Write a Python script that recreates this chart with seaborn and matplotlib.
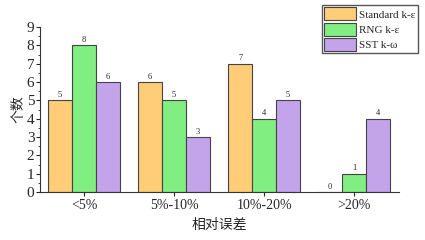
import pandas as pd
import matplotlib.pyplot as plt
import seaborn as sns

# Data
categories = ['<5%', '5%-10%', '10%-20%', '>20%']
models = ['Standard k-ε', 'RNG k-ε', 'SST k-ω']
standard_ke = [5, 6, 7, 0]
rng_ke = [8, 5, 4, 1]
sst_kw = [6, 3, 5, 4]
colors = ['#FFCC77', '#80EE80', '#C3A3EA']

df = pd.DataFrame({
    'Range': categories * 3,
    'Model': [m for m in models for _ in categories],
    'Count': standard_ke + rng_ke + sst_kw,
})

sns.set_style('white')
plt.rcParams['font.family'] = ['Liberation Serif', 'Noto Sans CJK SC']

fig = plt.figure(figsize=(4.25, 2.4), dpi=100)
ax = fig.add_axes([0.094, 0.2, 0.845, 0.6875])

sns.barplot(data=df, x='Range', y='Count', hue='Model', palette=colors,
            width=0.8, edgecolor='#444444', linewidth=0.8, saturation=1, ax=ax)

for c in ax.containers:
    ax.bar_label(c, fontsize=6, padding=1)

ax.set_xlim(-0.49, 3.5)
ax.set_ylim(0, 9)
ax.set_yticks(range(0, 10))
ax.set_yticks([i + 0.5 for i in range(9)], minor=True)
ax.tick_params(axis='y', which='major', direction='out', length=3, width=0.8, labelsize=11, left=True, pad=1)
ax.tick_params(axis='y', which='minor', direction='out', length=1.5, width=0.6, left=True)
ax.tick_params(axis='x', direction='out', length=3, width=0.8, labelsize=10, bottom=True, pad=2)
for s in ['top', 'right']:
    ax.spines[s].set_visible(False)
for s in ['left', 'bottom']:
    ax.spines[s].set_color('#333333')
    ax.spines[s].set_linewidth(0.8)

ax.set_xlabel('相对误差', fontsize=10, family=['Noto Sans CJK SC'], labelpad=4)
ax.set_ylabel('个数', fontsize=10, family=['Noto Sans CJK SC'], labelpad=1)

ax.legend(loc='upper right', bbox_to_anchor=(418 / 425, 1 - 5 / 240),
          bbox_transform=fig.transFigure, fontsize=8,
          frameon=True, fancybox=False, edgecolor='#555555', framealpha=1,
          handlelength=2.9, handleheight=1.45, handletextpad=0.3,
          borderpad=0.2, labelspacing=0.2, borderaxespad=0)

fig.savefig('out.png', dpi=100)
